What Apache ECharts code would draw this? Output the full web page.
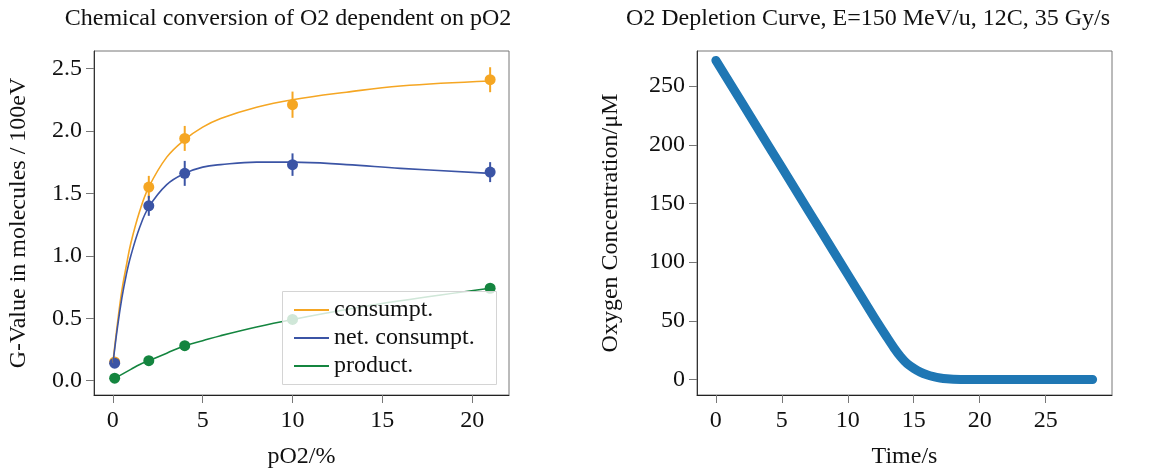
<!DOCTYPE html>
<html lang="en">
<head>
    <meta charset="UTF-8">
    <title>O2 conversion</title>
    <script src="https://cdn.jsdelivr.net/npm/echarts@6/dist/echarts.min.js"></script>
    <style>
        html, body { margin: 0; padding: 0; background: #fff; }
    </style>
</head>
<body>
<div id="main" style="width: 1169px;height:475px;"></div>
<script>
    // left panel: measured points (pO2 in %)
    let pO2 = [0.1, 2, 4, 10, 21];
    let consVal = [0.15, 1.55, 1.94, 2.21, 2.41];
    let consErr = [0.02, 0.09, 0.10, 0.105, 0.10];
    let netVal = [0.14, 1.40, 1.66, 1.73, 1.67];
    let netErr = [0.02, 0.08, 0.10, 0.09, 0.08];
    let prodVal = [0.02, 0.16, 0.28, 0.49, 0.74];
    let prodErr = [0.01, 0.01, 0.01, 0.01, 0.01];

    // left panel: fitted curves
    let fitX = [0, 0.25, 0.5, 0.75, 1, 1.5, 2, 3, 4, 5, 6, 8, 10, 13, 16, 21];
    let consFit = [0.14, 0.45, 0.72, 0.92, 1.10, 1.36, 1.55, 1.79, 1.93, 2.03, 2.10, 2.19, 2.25, 2.31, 2.36, 2.40];
    let netFit = [0.13, 0.42, 0.66, 0.85, 1.00, 1.23, 1.39, 1.57, 1.66, 1.71, 1.73, 1.75, 1.75, 1.73, 1.70, 1.66];
    let prodFit = [0.01, 0.03, 0.05, 0.07, 0.09, 0.13, 0.16, 0.22, 0.28, 0.32, 0.36, 0.43, 0.49, 0.57, 0.64, 0.74];

    // right panel: depletion curve
    let timeS = [0, 2, 4, 6, 8, 10, 12, 13, 13.5, 14, 14.5, 15, 15.5, 16, 16.5, 17, 17.5, 18, 19, 20, 22, 24, 26, 28.56];
    let o2uM = [272, 235.5, 199, 162.5, 126, 89.5, 53, 35.5, 27, 19.5, 13.5, 9.5, 6.3, 4, 2.4, 1.3, 0.6, 0.25, 0, 0, 0, 0, 0, 0];

    // ticks
    let leftXTicks = [0, 5, 10, 15, 20];
    let leftYTicks = [0, 0.5, 1.0, 1.5, 2.0, 2.5];
    let rightXTicks = [0, 5, 10, 15, 20, 25];
    let rightYTicks = [0, 50, 100, 150, 200, 250];

    let FONT = 'Liberation Serif';
    let cOrange = '#f5a623', cBlue = '#3b54a5', cGreen = '#14853f', cLine = '#1f77b4';

    function pairs(xs, ys) {
        return xs.map(function (x, i) { return [x, ys[i]]; });
    }

    function errSeries(vals, errs, color) {
        return {
            type: 'custom',
            xAxisIndex: 0, yAxisIndex: 0,
            data: pO2.map(function (x, i) { return [x, vals[i], errs[i]]; }),
            renderItem: function (params, api) {
                let x = api.value(0), y = api.value(1), e = api.value(2);
                let p1 = api.coord([x, y - e]);
                let p2 = api.coord([x, y + e]);
                return {
                    type: 'line',
                    shape: {x1: p1[0], y1: p1[1], x2: p2[0], y2: p2[1]},
                    style: {stroke: color, lineWidth: 2}
                };
            }
        };
    }

    function fitSeries(name, ys, color) {
        return {
            name: name, type: 'line', xAxisIndex: 0, yAxisIndex: 0,
            data: pairs(fitX, ys), smooth: 0.4, showSymbol: false,
            itemStyle: {color: color},
            lineStyle: {color: color, width: 1.6}
        };
    }

    function dotSeries(vals, color) {
        return {
            type: 'scatter', xAxisIndex: 0, yAxisIndex: 0,
            data: pairs(pO2, vals), symbolSize: 11,
            itemStyle: {color: color, opacity: 1}
        };
    }

    let axisText = {fontFamily: FONT, fontSize: 24, color: '#111'};
    let tick = {show: true, length: 8, lineStyle: {color: '#777', width: 1}};

    let myChart = echarts.init(document.getElementById('main'));
    let option = {
        animation: false,
        title: [
            {text: 'Chemical conversion of O2 dependent on pO2', left: 283, top: 2, textAlign: 'center',
                textStyle: {fontFamily: FONT, fontSize: 24, fontWeight: 'normal', color: '#111'}},
            {text: 'O2 Depletion Curve, E=150 MeV/u, 12C, 35 Gy/s', left: 863, top: 2, textAlign: 'center',
                textStyle: {fontFamily: FONT, fontSize: 24, fontWeight: 'normal', color: '#111'}}
        ],
        grid: [
            {left: 94, top: 51, width: 415, height: 344, show: true, borderColor: '#777', borderWidth: 1},
            {left: 697, top: 51, width: 415, height: 344, show: true, borderColor: '#777', borderWidth: 1}
        ],
        legend: {
            orient: 'vertical', left: 289, top: 293, z: 60,
            icon: 'rect', itemWidth: 35, itemHeight: 2, itemGap: 4,
            data: ['consumpt.', 'net. consumpt.', 'product.'],
            textStyle: {fontFamily: FONT, fontSize: 24, color: '#111'}
        },
        graphic: [{
            type: 'rect', z: 50,
            shape: {x: 282.5, y: 291.5, width: 214, height: 93},
            style: {fill: 'rgba(255,255,255,0.8)', stroke: '#d4d4d4', lineWidth: 1}
        }],
        xAxis: [
            {type: 'value', gridIndex: 0, min: -1.05, max: 22.05,
                name: 'pO2/%', nameLocation: 'middle', nameGap: 50,
                nameTextStyle: axisText,
                axisLine: {show: true, onZero: false, lineStyle: {color: '#222'}},
                axisTick: Object.assign({customValues: leftXTicks}, tick),
                axisLabel: Object.assign({customValues: leftXTicks, margin: 14}, axisText),
                splitLine: {show: false}},
            {type: 'value', gridIndex: 1, min: -1.43, max: 30.03,
                name: 'Time/s', nameLocation: 'middle', nameGap: 50,
                nameTextStyle: axisText,
                axisLine: {show: true, onZero: false, lineStyle: {color: '#222'}},
                axisTick: Object.assign({customValues: rightXTicks}, tick),
                axisLabel: Object.assign({customValues: rightXTicks, margin: 14}, axisText),
                splitLine: {show: false}}
        ],
        yAxis: [
            {type: 'value', gridIndex: 0, min: -0.115, max: 2.64,
                name: 'G-Value in molecules / 100eV', nameLocation: 'middle', nameGap: 63,
                nameTextStyle: axisText,
                axisLine: {show: true, onZero: false, lineStyle: {color: '#333'}},
                axisTick: Object.assign({customValues: leftYTicks}, tick),
                axisLabel: Object.assign({customValues: leftYTicks, margin: 12,
                    formatter: function (v) { return v.toFixed(1); }}, axisText),
                splitLine: {show: false}},
            {type: 'value', gridIndex: 1, min: -13.2, max: 280,
                name: 'Oxygen Concentration/\u03bcM', nameLocation: 'middle', nameGap: 74,
                nameTextStyle: axisText,
                axisLine: {show: true, onZero: false, lineStyle: {color: '#333'}},
                axisTick: Object.assign({customValues: rightYTicks}, tick),
                axisLabel: Object.assign({customValues: rightYTicks, margin: 12}, axisText),
                splitLine: {show: false}}
        ],
        series: [
            fitSeries('consumpt.', consFit, cOrange),
            errSeries(consVal, consErr, cOrange),
            dotSeries(consVal, cOrange),
            fitSeries('net. consumpt.', netFit, cBlue),
            errSeries(netVal, netErr, cBlue),
            dotSeries(netVal, cBlue),
            fitSeries('product.', prodFit, cGreen),
            errSeries(prodVal, prodErr, cGreen),
            dotSeries(prodVal, cGreen),
            {
                type: 'line', xAxisIndex: 1, yAxisIndex: 1,
                data: pairs(timeS, o2uM), smooth: 0.3, showSymbol: false,
                lineStyle: {color: cLine, width: 9, cap: 'round', join: 'round'}
            }
        ]
    };
    myChart.setOption(option);
</script>
</body>
</html>
